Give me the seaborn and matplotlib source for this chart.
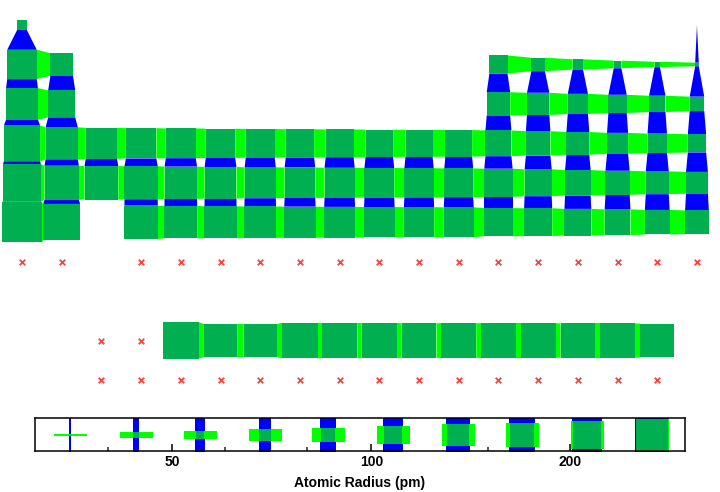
import numpy as np
import pandas as pd
import matplotlib
matplotlib.use("Agg")
import matplotlib.pyplot as plt
import seaborn as sns
from matplotlib.patches import Polygon, Rectangle
from matplotlib.path import Path
from matplotlib.ticker import NullFormatter

# --- DATA: calculated atomic radii (pm), laid out as the periodic table ---
# None = empty cell, nan = element without a value (drawn as a red cross)
N = None
nan = np.nan
period_1 = [53] + [N] * 16 + [31]
period_2 = [167, 112] + [N] * 10 + [87, 67, 56, 48, 42, 38]
period_3 = [190, 145] + [N] * 10 + [118, 111, 98, 88, 79, 71]
period_4 = [243, 194, 184, 176, 171, 166, 161, 156, 152, 149, 145, 142, 136, 125, 114, 103, 94, 88]
period_5 = [265, 219, 212, 206, 198, 190, 183, 178, 173, 169, 165, 161, 156, 145, 133, 123, 115, 108]
period_6 = [298, 253, N, 208, 200, 193, 188, 185, 180, 177, 174, 171, 156, 154, 143, 135, 127, 120]
period_7 = [nan, nan, N] + [nan] * 15
spacer = [N] * 18
lanthanides = [N, N, nan, nan, 247, 206, 205, 238, 231, 233, 225, 228, 226, 226, 222, 222, 217, N]
actinides = [N, N] + [nan] * 15 + [N]

table_rows = [period_1, period_2, period_3, period_4, period_5, period_6, period_7,
              spacer, lanthanides, actinides]

# radii shown in the size key (one per bin along the log axis)
legend_radii = [35, 44, 55, 69, 86, 108, 135, 169, 212, 266]
major_ticks = [50, 100, 200]
minor_ticks = [40, 60, 70, 80, 150]

DARK_GREEN = "#00b050"
LIME = "#00ff00"
BLUE = "#0000ff"
RED = "#ff4040"

known = [v for row in table_rows for v in row if v is not None and not np.isnan(v)]
R_MIN, R_MAX = min(known), max(known)


def glyph_size(r):
    return np.log(r / R_MIN) / np.log(R_MAX / R_MIN)


def has_value(v):
    return v is not None and not np.isnan(v)


sns.set_theme(style="white")
plt.rcParams["font.family"] = ["Liberation Sans", "DejaVu Sans"]

fig = plt.figure(figsize=(7.2, 4.92), dpi=100)

# --- MAIN TABLE ---
ax = fig.add_axes([0, 92 / 492, 1, 400 / 492])
ax.set_xlim(-0.554, 17.58)
ax.set_ylim(9.508, -0.634)
ax.axis("off")

n_rows, n_cols = len(table_rows), 18
missing = []
for r in range(n_rows):
    for c in range(n_cols):
        v = table_rows[r][c]
        if v is None:
            continue
        if not has_value(v):
            missing.append((c, r))
            continue
        s1 = glyph_size(v)
        # horizontal bridge to the right neighbour
        if c + 1 < n_cols and has_value(table_rows[r][c + 1]):
            s2 = glyph_size(table_rows[r][c + 1])
            ax.add_patch(Polygon([(c + s1 / 2, r - s1 / 2), (c + 1 - s2 / 2, r - s2 / 2),
                                  (c + 1 - s2 / 2, r + s2 / 2), (c + s1 / 2, r + s1 / 2)],
                                 closed=True, facecolor=LIME, lw=0, zorder=1))
        # vertical bridge to the element below
        if r + 1 < n_rows and has_value(table_rows[r + 1][c]):
            s2 = glyph_size(table_rows[r + 1][c])
            ax.add_patch(Polygon([(c - s1 / 2, r + s1 / 2), (c + s1 / 2, r + s1 / 2),
                                  (c + s2 / 2, r + 1 - s2 / 2), (c - s2 / 2, r + 1 - s2 / 2)],
                                 closed=True, facecolor=BLUE, lw=0, zorder=1))
        ax.add_patch(Rectangle((c - s1 / 2, r - s1 / 2), s1, s1,
                               facecolor=DARK_GREEN, lw=0, zorder=2))

miss_df = pd.DataFrame(missing, columns=["col", "row"])
sns.scatterplot(data=miss_df, x="col", y="row", marker="x", color=RED, s=16,
                linewidth=1.3, ax=ax, zorder=3, legend=False)
ax.set_xlim(-0.554, 17.58)
ax.set_ylim(9.508, -0.634)
ax.axis("off")

# --- SIZE KEY ---
lax = fig.add_axes([35 / 720, 41 / 492, 650 / 720, 33 / 492])
lax.set_xscale("log")
lax.set_xlim(R_MIN, R_MAX)
lax.set_ylim(0, 1)

unit_pt = 33 * 72 / 100
for r in legend_radii:
    f = glyph_size(r)
    h = max(f, 0.01)
    hbar = Path([(-1, -h), (1, -h), (1, h), (-1, h), (-1, -h)], closed=True)
    vbar = Path([(-h, -1), (h, -1), (h, 1), (-h, 1), (-h, -1)], closed=True)
    lax.plot([r], [0.5], marker=vbar, markersize=36 * 72 / 100, color=BLUE,
             markeredgewidth=0, linestyle="none")
    lax.plot([r], [0.5], marker=hbar, markersize=unit_pt, color=LIME,
             markeredgewidth=0, linestyle="none")
    lax.plot([r], [0.5], marker="s", markersize=f * unit_pt, color=DARK_GREEN,
             markeredgewidth=0, linestyle="none")

lax.set_xticks(major_ticks)
lax.set_xticklabels([str(t) for t in major_ticks], fontweight="bold", fontsize=10)
lax.set_xticks(minor_ticks, minor=True)
lax.xaxis.set_minor_formatter(NullFormatter())
lax.set_yticks([])
lax.tick_params(axis="x", which="major", direction="in", length=5, width=1.1,
                bottom=True, top=False, pad=3, colors="black")
lax.tick_params(axis="x", which="minor", direction="in", length=3, width=1.1,
                bottom=True, top=False)
for sp in lax.spines.values():
    sp.set_color("black")
    sp.set_linewidth(1.1)
lax.set_xlabel("Atomic Radius (pm)", fontweight="bold", fontsize=10, labelpad=5, color="black")

fig.savefig("out.png", dpi=100)
